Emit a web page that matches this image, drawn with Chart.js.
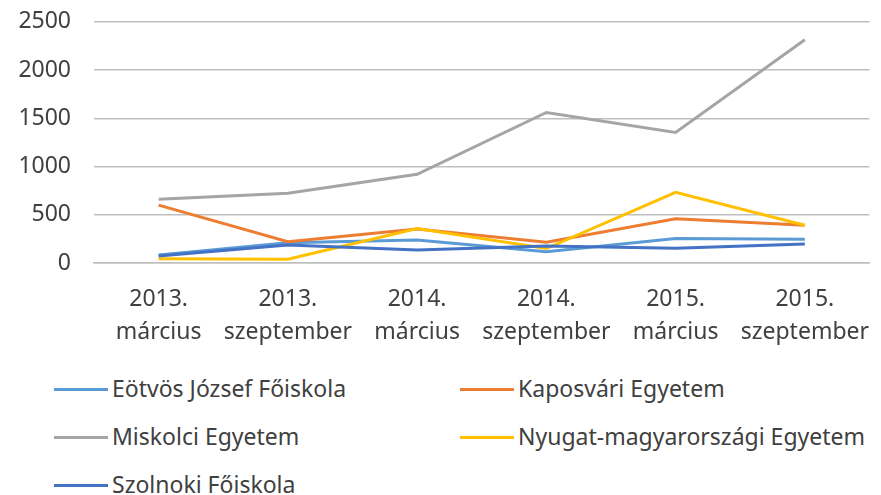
<!DOCTYPE html>
<html>
<head>
<meta charset="utf-8">
<script src="https://cdn.jsdelivr.net/npm/chart.js@4"></script>
<style>
  body { margin: 0; background: #fff; font-family: "Noto Sans", sans-serif; overflow: hidden; }
  #wrap { position: relative; width: 881px; height: 367px; margin-top: -15px; }
  #legend { position: absolute; left: 54px; top: 364px; display: grid;
            grid-template-columns: 406px 420px; row-gap: 0; }
  .item { display: flex; align-items: center; height: 48px; font-size: 23px; color: #404040; }
  .swatch { width: 54px; height: 3px; margin-right: 4px; margin-top: 2px; }
</style>
</head>
<body>
<div id="wrap"><canvas id="myChart"></canvas></div>
<div id="legend"></div>
<script>
const labels = [['2013.', 'március'], ['2013.', 'szeptember'], ['2014.', 'március'],
                ['2014.', 'szeptember'], ['2015.', 'március'], ['2015.', 'szeptember']]
const seriesNames = ['Eötvös József Főiskola', 'Kaposvári Egyetem', 'Miskolci Egyetem',
                     'Nyugat-magyarországi Egyetem', 'Szolnoki Főiskola']
const eotvos = [83, 210, 238, 117, 255, 245]
const kaposvari = [600, 220, 352, 215, 458, 392]
const miskolci = [660, 723, 920, 1560, 1353, 2314]
const nyugat = [45, 38, 358, 150, 733, 392]
const szolnoki = [72, 186, 134, 176, 152, 196]
const colors = ['#5B9BD5', '#ED7D31', '#A5A5A5', '#FFC000', '#4472C4']

const values = [eotvos, kaposvari, miskolci, nyugat, szolnoki]

const ctx = document.getElementById('myChart').getContext('2d')
const char = new Chart(ctx, {
    type: 'line',
    data: {
        labels: labels,
        datasets: values.map((v, i) => ({
            label: seriesNames[i],
            data: v,
            borderColor: colors[i],
            backgroundColor: colors[i],
            borderWidth: 3,
            pointRadius: 0,
            tension: 0,
            order: values.length - i
        }))
    },
    options: {
        responsive: true,
        maintainAspectRatio: false,
        animation: false,
        layout: { padding: 0 },
        plugins: { legend: { display: false }, tooltip: { enabled: false } },
        scales: {
            x: {
                offset: true,
                grid: { display: false },
                border: { color: '#bfbfbf', width: 1.5 },
                ticks: { color: '#404040', font: { family: 'Noto Sans', size: 23, lineHeight: 1.42 },
                         maxRotation: 0, autoSkip: false, padding: 12 },
                afterFit: scale => { scale.height = 89 }
            },
            y: {
                min: 0,
                max: 2500,
                ticks: { stepSize: 500, color: '#404040', font: { family: 'Noto Sans', size: 23 }, padding: 23,
                         callback: v => String(v) },
                grid: { color: '#bfbfbf', lineWidth: 1.5, drawTicks: false },
                border: { display: false },
                afterFit: scale => { scale.width = 94 }
            }
        }
    }
})

// legend in two columns
const legend = document.getElementById('legend')
seriesNames.forEach((name, i) => {
    const item = document.createElement('div')
    item.className = 'item'
    const sw = document.createElement('span')
    sw.className = 'swatch'
    sw.style.background = colors[i]
    const txt = document.createElement('span')
    txt.textContent = name
    item.appendChild(sw)
    item.appendChild(txt)
    legend.appendChild(item)
})
</script>
</body>
</html>
